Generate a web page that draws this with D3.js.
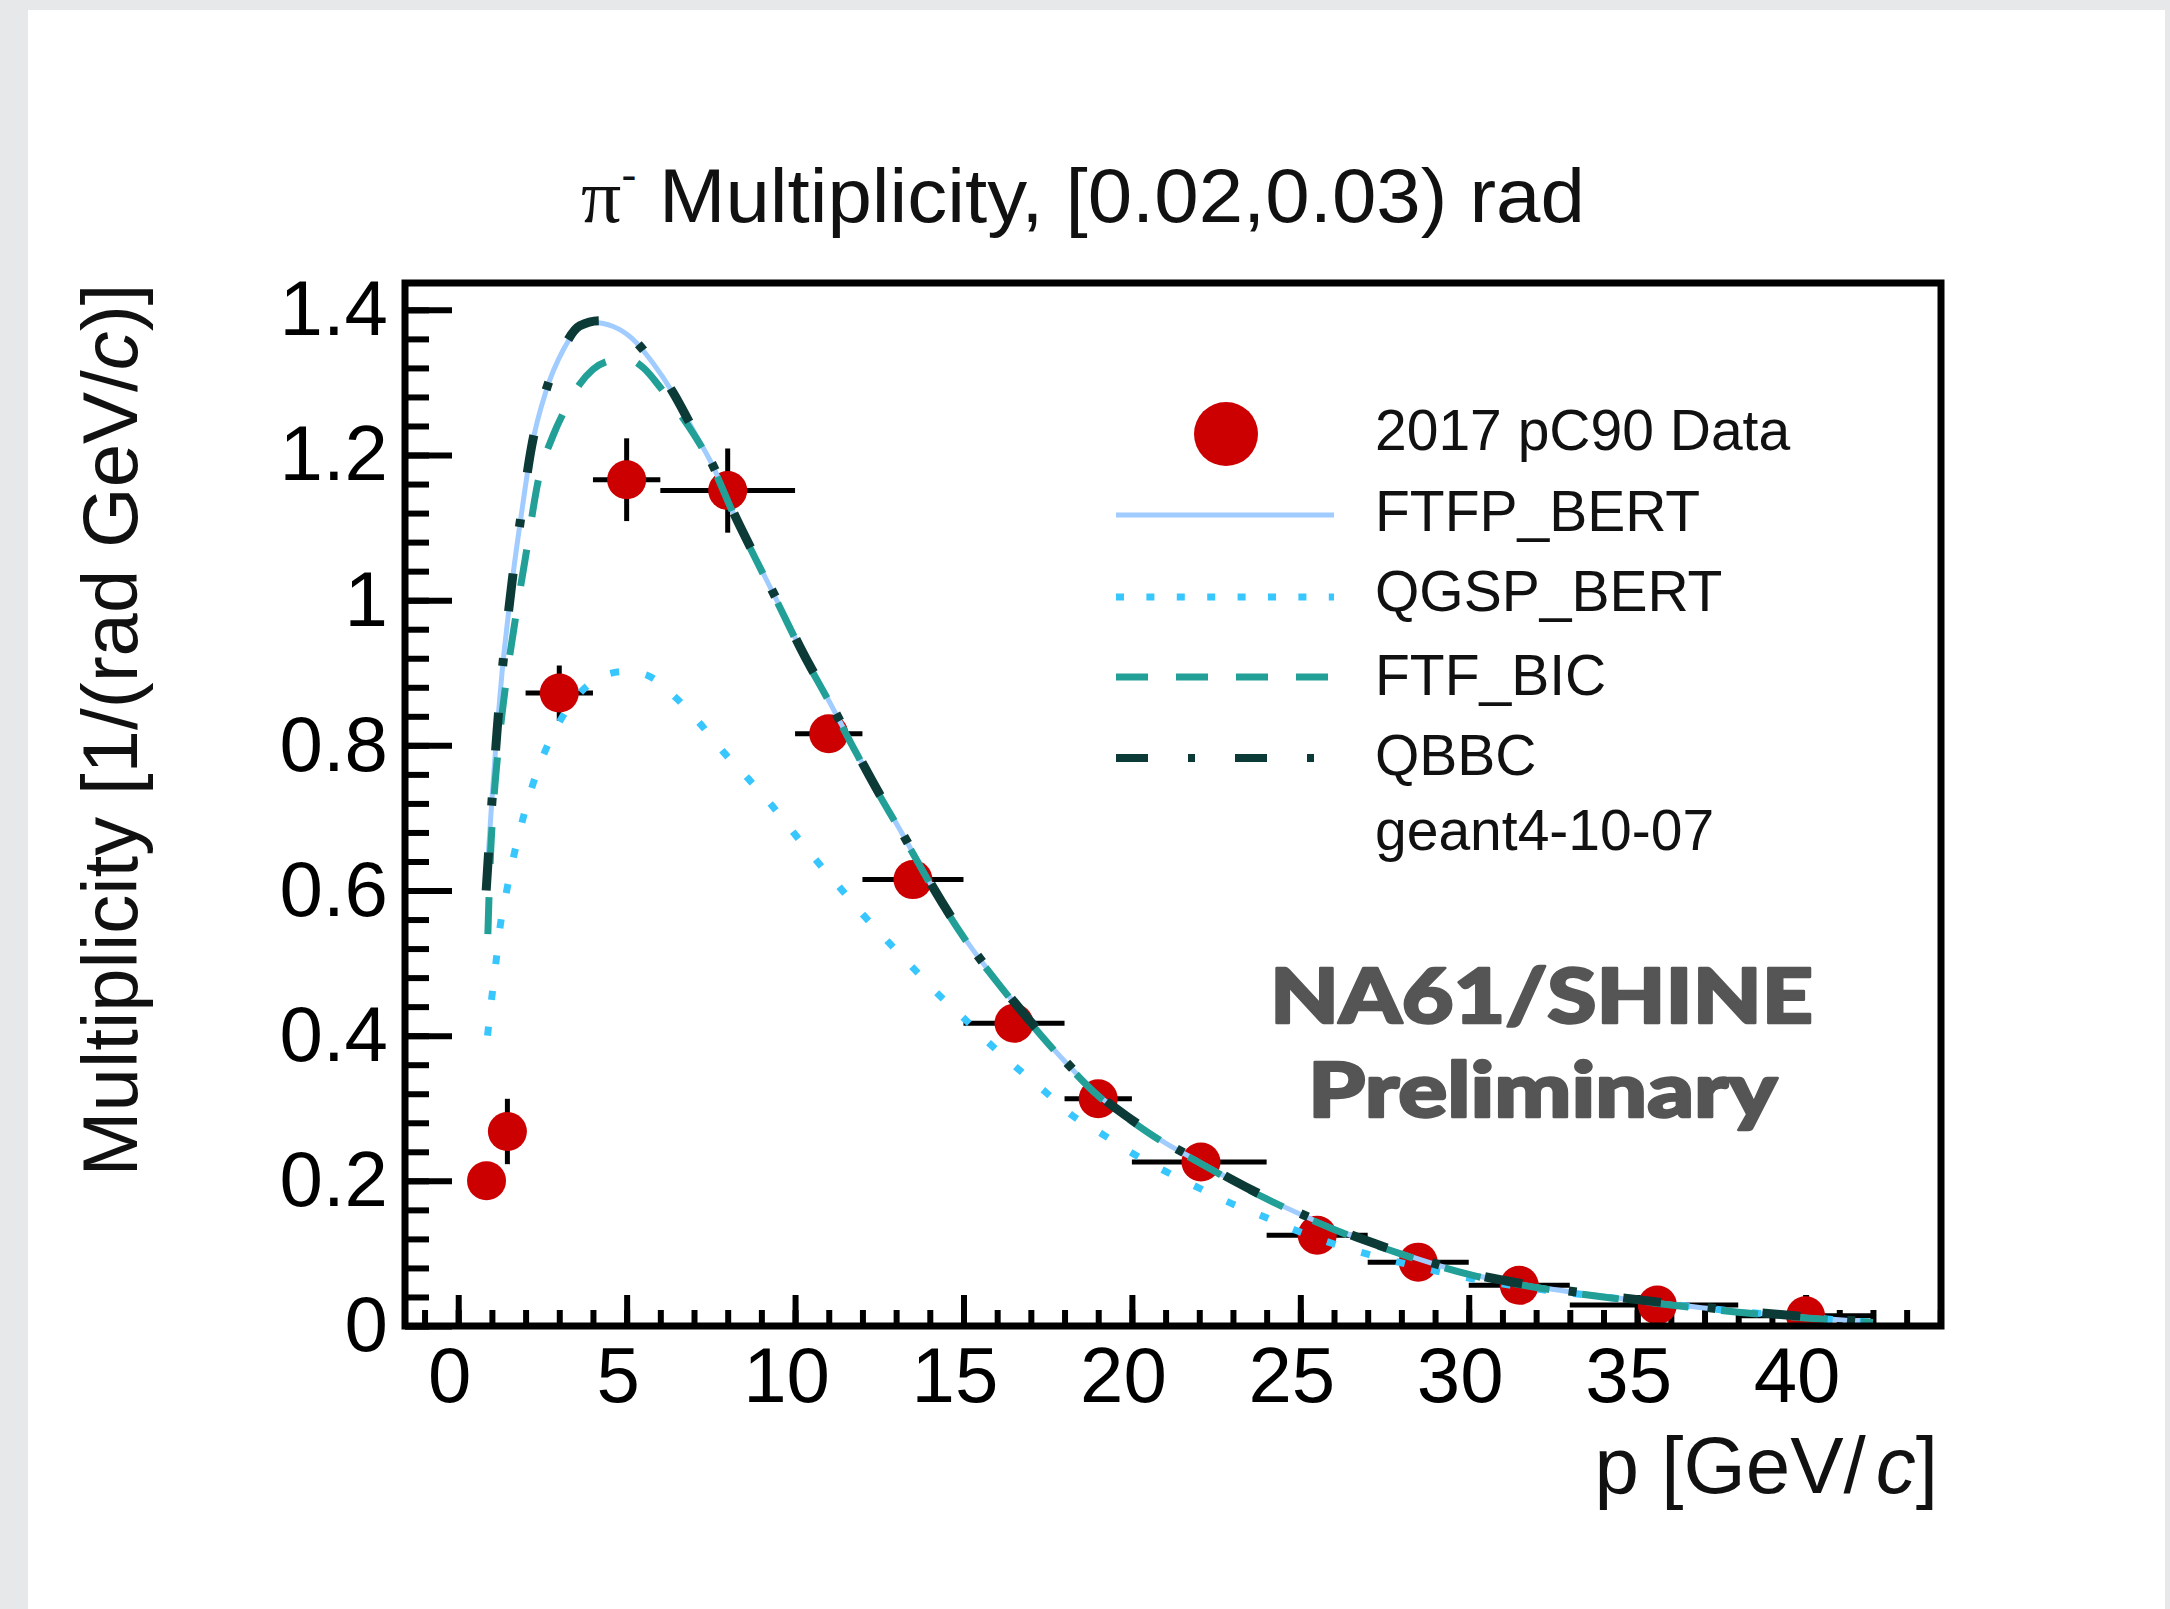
<!DOCTYPE html>
<html>
<head>
<meta charset="utf-8">
<script src="https://cdn.jsdelivr.net/npm/d3@7"></script>
<style>
  html, body { margin: 0; padding: 0; background: #e6e8ea; }
  svg { display: block; }
</style>
</head>
<body>
<svg id="chart" width="2170" height="1609"></svg>
<script>
// ---------- Measured pi- multiplicity, 2017 pC90 data ----------
const binLow  = [0.6, 1.2, 2, 4, 6, 10, 12, 15, 18, 20, 24, 27, 30, 33, 38];
const binHigh = [1.1, 1.7, 4, 6, 10, 12, 15, 18, 20, 24, 27, 30, 33, 38, 42];
const binMid  = [0.84, 1.46, 3.0, 5.0, 8.0, 11.0, 13.5, 16.5, 19.0, 22.05, 25.5, 28.5, 31.5, 35.6, 40.0];
const multiplicity = [0.200, 0.268, 0.872, 1.166, 1.151, 0.816, 0.615, 0.417, 0.313, 0.226, 0.125, 0.088, 0.056, 0.029, 0.014];
const multError    = [0.012, 0.045, 0.038, 0.057, 0.058, 0.022, 0.020, 0.015, 0.012, 0.009, 0.006, 0.005, 0.004, 0.003, 0.002];

// ---------- geant4-10-07 model predictions ----------
const ftfpP = [0.85, 1.0, 1.15, 1.3, 1.45, 1.6, 1.88, 2.18, 2.62, 3.12, 3.61, 4.01, 4.6, 5.15, 5.79, 6.38, 6.98, 7.57, 8.17, 8.86, 9.55, 10.24, 10.94, 11.73, 12.52, 13.0, 13.5, 14.1, 15.1, 16.08, 17.07, 18.06, 19, 20, 21, 22, 23, 24, 25, 26, 27, 28, 29, 30, 32, 34, 36, 38, 40, 42];
const ftfpM = [0.62, 0.725, 0.82, 0.90, 0.965, 1.025, 1.12, 1.211, 1.29, 1.345, 1.377, 1.3825, 1.377, 1.361, 1.326, 1.285, 1.234, 1.184, 1.12, 1.055, 0.991, 0.926, 0.867, 0.798, 0.731, 0.693, 0.652, 0.603, 0.530, 0.470, 0.414, 0.362, 0.318, 0.283, 0.252, 0.226, 0.200, 0.176, 0.154, 0.134, 0.116, 0.100, 0.085, 0.072, 0.054, 0.041, 0.030, 0.020, 0.012, 0.005];

const qgspP = [0.87, 0.99, 1.12, 1.24, 1.44, 1.65, 1.91, 2.2, 2.57, 3.0, 3.5, 4.0, 4.5, 5.0, 5.59, 6.43, 7.18, 7.87, 8.61, 9.26, 9.95, 10.64, 11.33, 12.03, 12.77, 13.51, 14.25, 14.99, 15.8, 16.6, 17.42, 18.2, 19.1, 20.05, 21, 21.95, 22.9, 23.85, 24.8, 26, 27, 28, 29, 30, 32, 34, 36, 38, 40, 42];
const qgspM = [0.40, 0.45, 0.501, 0.549, 0.60, 0.648, 0.697, 0.744, 0.791, 0.832, 0.866, 0.888, 0.899, 0.902, 0.897, 0.867, 0.83, 0.791, 0.754, 0.72, 0.68, 0.641, 0.604, 0.566, 0.529, 0.493, 0.457, 0.425, 0.388, 0.355, 0.323, 0.291, 0.265, 0.237, 0.213, 0.191, 0.17, 0.152, 0.133, 0.113, 0.099, 0.087, 0.076, 0.066, 0.051, 0.040, 0.030, 0.020, 0.012, 0.005];

const ftfbicP = [0.88, 0.95, 1.05, 1.2, 1.4, 1.7, 2.0, 2.4, 2.8, 3.2, 3.6, 4.0, 4.5, 5.0, 5.5, 6.0, 6.5, 7.0, 7.57, 8.17, 8.86, 9.55, 10.24, 10.94, 11.73, 12.52, 13.0, 13.5, 14.1, 15.1, 16.08, 17.07, 18.06, 19, 20, 21, 22, 23, 24, 25, 26, 27, 28, 29, 30, 32, 34, 36, 38, 40, 42];
const ftfbicM = [0.54, 0.64, 0.72, 0.80, 0.88, 0.975, 1.06, 1.17, 1.225, 1.265, 1.297, 1.318, 1.330, 1.333, 1.320, 1.293, 1.262, 1.228, 1.182, 1.119, 1.054, 0.990, 0.925, 0.866, 0.797, 0.730, 0.692, 0.651, 0.602, 0.529, 0.469, 0.413, 0.361, 0.317, 0.282, 0.251, 0.225, 0.199, 0.175, 0.153, 0.133, 0.115, 0.099, 0.084, 0.071, 0.053, 0.040, 0.029, 0.019, 0.011, 0.005];

const qbbcP = [0.83, 1.0, 1.15, 1.3, 1.45, 1.6, 1.88, 2.18, 2.62, 3.12, 3.61, 4.2, 4.6, 5.15, 5.79, 6.38, 6.98, 7.57, 8.17, 8.86, 9.55, 10.24, 10.94, 11.73, 12.52, 13.0, 13.5, 14.1, 15.1, 16.08, 17.07, 18.06, 19, 20, 21, 22, 23, 24, 25, 26, 27, 28, 29, 30, 32, 34, 36, 38, 40, 42];
const qbbcM = [0.60, 0.722, 0.818, 0.90, 0.966, 1.026, 1.121, 1.212, 1.291, 1.347, 1.378, 1.385, 1.379, 1.362, 1.327, 1.286, 1.235, 1.185, 1.121, 1.056, 0.992, 0.927, 0.868, 0.799, 0.732, 0.694, 0.653, 0.604, 0.531, 0.471, 0.415, 0.363, 0.319, 0.284, 0.253, 0.227, 0.201, 0.177, 0.155, 0.135, 0.117, 0.101, 0.086, 0.073, 0.055, 0.042, 0.031, 0.021, 0.013, 0.005];

// ---------- axis ticks and labels ----------
const xMajorTicks = [0, 5, 10, 15, 20, 25, 30, 35, 40];
const xMinorTicks = d3.range(-1, 45, 1);
const yMajorTicks = [0, 0.2, 0.4, 0.6, 0.8, 1, 1.2, 1.4];
const yMinorTicks = d3.range(0, 36, 1).map(i => +(i * 0.04).toFixed(2));

const legendLabels = ["2017 pC90 Data", "FTFP_BERT", "QGSP_BERT", "FTF_BIC", "QBBC", "geant4-10-07"];

const FONT = "'Liberation Sans', Arial, Helvetica, sans-serif";

const svg = d3.select("#chart");

// white slide card on the grey page
svg.append("rect").attr("x", 28).attr("y", 10).attr("width", 2137).attr("height", 1599).attr("fill", "#ffffff");

const x = d3.scaleLinear().domain([-1.58, 44.02]).range([405, 1941]);
const y = d3.scaleLinear().domain([0, 1.437]).range([1326, 283]);

svg.append("clipPath").attr("id", "plotClip")
  .append("rect").attr("x", 405).attr("y", 283).attr("width", 1536).attr("height", 1043);

// stretch a text element horizontally so its box spans [left, left+width]
function fitX(node, left, width) {
  const b = node.getBBox();
  const s = width / b.width;
  node.setAttribute("transform", `translate(${left},0) scale(${s},1) translate(${-b.x},0)`);
}

function styleAxis(g, fontSize) {
  g.select(".domain").remove();
  g.attr("font-family", FONT).attr("font-size", fontSize).attr("fill", "#000");
  g.selectAll(".tick line").attr("stroke", "#000").attr("stroke-width", 6);
  g.selectAll(".tick text").attr("fill", "#000");
}

// ---------- x axis ----------
svg.append("g").attr("transform", "translate(0,1326)")
  .call(d3.axisBottom(x).tickValues(xMinorTicks).tickSize(-16).tickFormat(""))
  .call(g => styleAxis(g, 78));
svg.append("g").attr("transform", "translate(0,1326)")
  .call(d3.axisBottom(x).tickValues(xMajorTicks).tickSize(-31).tickPadding(21).tickFormat(d3.format("d")))
  .call(g => styleAxis(g, 78))
  .call(g => g.selectAll(".tick text").attr("x", -9));

// ---------- y axis ----------
svg.append("g").attr("transform", "translate(405,0)")
  .call(d3.axisLeft(y).tickValues(yMinorTicks).tickSize(-24).tickFormat(""))
  .call(g => styleAxis(g, 78));
svg.append("g").attr("transform", "translate(405,0)")
  .call(d3.axisLeft(y).tickValues(yMajorTicks).tickSize(-47).tickPadding(17).tickFormat(d => String(d)))
  .call(g => styleAxis(g, 78));

// ---------- data: error bars and markers ----------
const points = binMid.map((p, i) => ({
  p, lo: binLow[i], hi: binHigh[i], m: multiplicity[i], e: multError[i]
}));

const dataG = svg.append("g").attr("clip-path", "url(#plotClip)");
dataG.selectAll("line.xerr").data(points).join("line")
  .attr("class", "xerr")
  .attr("x1", d => x(d.lo)).attr("x2", d => x(d.hi))
  .attr("y1", d => y(d.m)).attr("y2", d => y(d.m))
  .attr("stroke", "#000").attr("stroke-width", 5);
dataG.selectAll("line.yerr").data(points).join("line")
  .attr("class", "yerr")
  .attr("x1", d => x(d.p)).attr("x2", d => x(d.p))
  .attr("y1", d => y(d.m - d.e)).attr("y2", d => y(d.m + d.e))
  .attr("stroke", "#000").attr("stroke-width", 5);
dataG.selectAll("circle.pt").data(points).join("circle")
  .attr("class", "pt")
  .attr("cx", d => x(d.p)).attr("cy", d => y(d.m)).attr("r", 19.5)
  .attr("fill", "#cc0000");

// ---------- model curves ----------
const line = d3.line().x(d => x(d[0])).y(d => y(d[1])).curve(d3.curveMonotoneX);
const models = [
  { p: ftfpP,   m: ftfpM,   color: "#a0ccff", width: 5, dash: null },
  { p: qgspP,   m: qgspM,   color: "#38c6ff", width: 7, dash: "9 27" },
  { p: ftfbicP, m: ftfbicM, color: "#22a098", width: 7, dash: "37 33" },
  { p: qbbcP,   m: qbbcM,   color: "#0c3a37", width: 9, dash: "38 47 8 47" }
];
const curveG = svg.append("g").attr("clip-path", "url(#plotClip)");
models.forEach(md => {
  curveG.append("path")
    .datum(md.p.map((p, i) => [p, md.m[i]]))
    .attr("d", line)
    .attr("fill", "none")
    .attr("stroke", md.color)
    .attr("stroke-width", md.width)
    .attr("stroke-dasharray", md.dash);
});

// ---------- frame ----------
svg.append("rect").attr("x", 405).attr("y", 283).attr("width", 1536).attr("height", 1043)
  .attr("fill", "none").attr("stroke", "#000").attr("stroke-width", 7);

// ---------- legend ----------
const legG = svg.append("g").attr("font-family", FONT).attr("font-size", 57).attr("fill", "#111");
const legBase = [450, 531, 611, 695, 775, 850];
legG.selectAll("text").data(legendLabels).join("text")
  .attr("x", 1375).attr("y", (d, i) => legBase[i]).text(d => d);
legG.append("circle").attr("cx", 1226).attr("cy", 434).attr("r", 32).attr("fill", "#cc0000");
const legLines = [
  { y: 515, color: "#a0ccff", width: 5, dash: null },
  { y: 597, color: "#38c6ff", width: 7, dash: "8 22.4" },
  { y: 677, color: "#22a098", width: 7, dash: "32 28" },
  { y: 758, color: "#0c3a37", width: 8, dash: "32 40 7 40" }
];
legLines.forEach(l => {
  legG.append("line").attr("x1", 1116).attr("x2", 1334).attr("y1", l.y).attr("y2", l.y)
    .attr("stroke", l.color).attr("stroke-width", l.width).attr("stroke-dasharray", l.dash);
});

// ---------- titles ----------
const title = svg.append("text").attr("y", 222).attr("font-family", FONT).attr("font-size", 76).attr("fill", "#111");
title.append("tspan").attr("font-family", "'Liberation Serif', 'DejaVu Serif', serif").text("π");
title.append("tspan").attr("font-size", 44).attr("dy", -32).text("-");
title.append("tspan").attr("dy", 32).text(" Multiplicity, [0.02,0.03) rad");
fitX(title.node(), 581, 1004);

const yTitle = svg.append("text")
  .attr("transform", "translate(137,730) rotate(-90)")
  .attr("text-anchor", "middle").attr("font-family", FONT).attr("font-size", 78).attr("fill", "#111");
yTitle.append("tspan").text("Multiplicity [1/(rad GeV/");
yTitle.append("tspan").attr("font-style", "italic").text("c");
yTitle.append("tspan").text(")]");

const xTitle = svg.append("text")
  .attr("x", 1938).attr("y", 1493).attr("text-anchor", "end")
  .attr("font-family", FONT).attr("font-size", 80).attr("fill", "#111");
xTitle.append("tspan").text("p [GeV/");
xTitle.append("tspan").attr("font-style", "italic").attr("dx", 10).text("c");
xTitle.append("tspan").text("]");

// ---------- experiment label ----------
const expG = svg.append("g")
  .attr("font-family", "Lato, 'Open Sans', sans-serif").attr("font-weight", 900)
  .attr("fill", "#555555").attr("stroke", "#555555").attr("stroke-width", 2.5)
  .attr("stroke-linejoin", "round");
const l1 = expG.append("text").attr("y", 1023).attr("font-size", 76).text("NA61/SHINE");
fitX(l1.node(), 1270, 543);
const l2 = expG.append("text").attr("y", 1117).attr("font-size", 76).text("Preliminary");
fitX(l2.node(), 1308, 470);
</script>
</body>
</html>
